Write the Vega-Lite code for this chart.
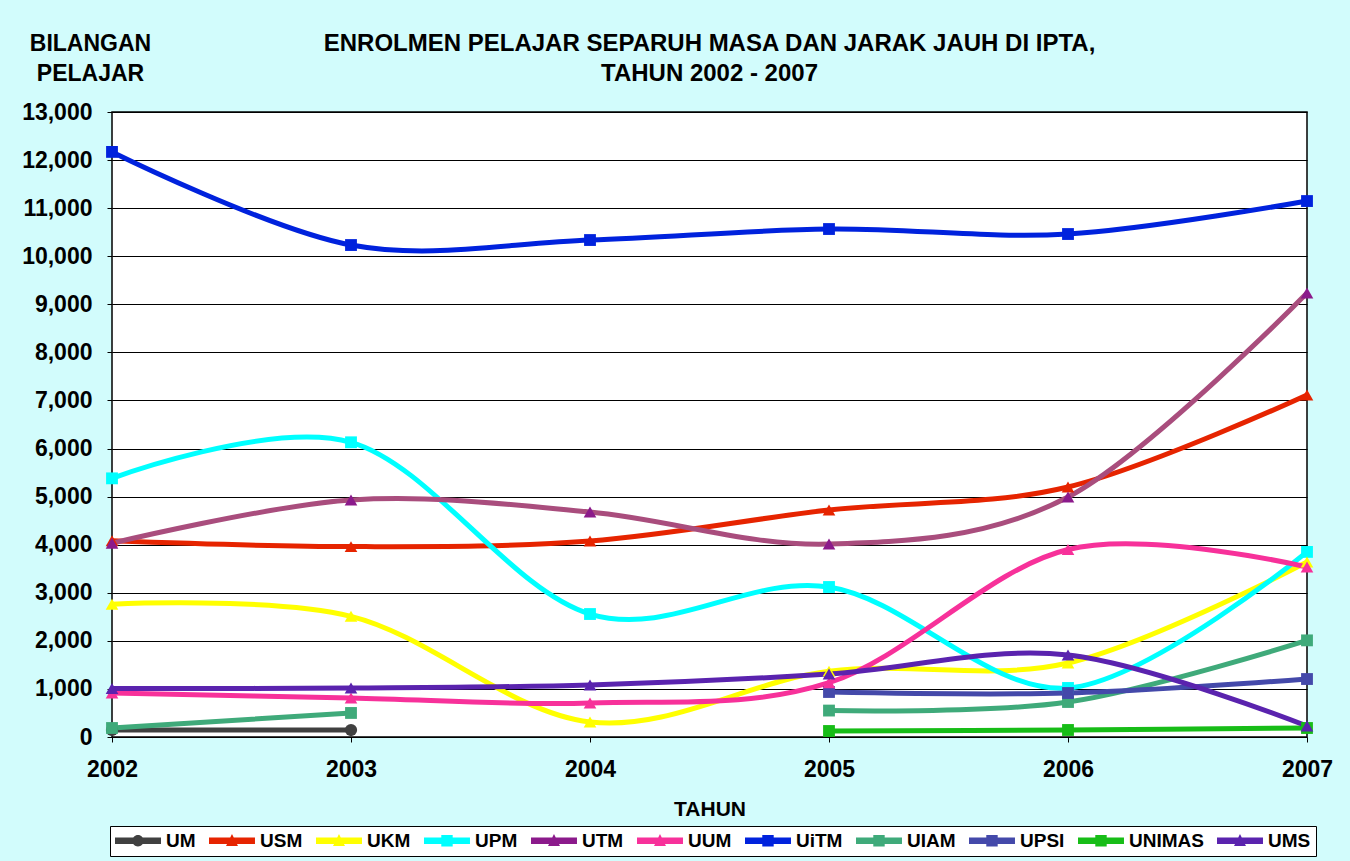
{
  "$schema": "https://vega.github.io/schema/vega-lite/v6.json",
  "width": 1195,
  "height": 625,
  "autosize": {"type": "none"},
  "padding": {"left": 112, "top": 112, "right": 43, "bottom": 124},
  "background": "#D2FCFC",
  "config": {
    "font": "Liberation Sans",
    "view": {"stroke": "#000000", "strokeWidth": 1.5, "fill": "#FFFFFF"},
    "axis": {"labelFont": "Liberation Sans", "labelFontWeight": "bold", "labelColor": "#000000", "titleFont": "Liberation Sans", "titleFontWeight": "bold", "titleColor": "#000000", "tickColor": "#000000", "domain": false}
  },
  "title": {
    "text": ["ENROLMEN PELAJAR SEPARUH MASA DAN JARAK JAUH DI IPTA,", "TAHUN 2002 - 2007"],
    "font": "Liberation Sans",
    "fontSize": 24,
    "fontWeight": "bold",
    "color": "#000000",
    "anchor": "middle",
    "frame": "group",
    "baseline": "bottom",
    "lineHeight": 30,
    "offset": -78
  },
  "data": {
    "values": [
      {"t": 2002, "s": "UM", "v": 145},
      {"t": 2003, "s": "UM", "v": 145},
      {"t": 2002, "s": "USM", "v": 4080},
      {"t": 2003, "s": "USM", "v": 3960},
      {"t": 2004, "s": "USM", "v": 4077},
      {"t": 2005, "s": "USM", "v": 4721},
      {"t": 2006, "s": "USM", "v": 5200},
      {"t": 2007, "s": "USM", "v": 7115},
      {"t": 2002, "s": "UKM", "v": 2760},
      {"t": 2003, "s": "UKM", "v": 2510},
      {"t": 2004, "s": "UKM", "v": 312},
      {"t": 2005, "s": "UKM", "v": 1370},
      {"t": 2006, "s": "UKM", "v": 1540},
      {"t": 2007, "s": "UKM", "v": 3640},
      {"t": 2002, "s": "UPM", "v": 5380},
      {"t": 2003, "s": "UPM", "v": 6130},
      {"t": 2004, "s": "UPM", "v": 2558},
      {"t": 2005, "s": "UPM", "v": 3120},
      {"t": 2006, "s": "UPM", "v": 1020},
      {"t": 2007, "s": "UPM", "v": 3850},
      {"t": 2002, "s": "UTM", "v": 4030},
      {"t": 2003, "s": "UTM", "v": 4930},
      {"t": 2004, "s": "UTM", "v": 4680},
      {"t": 2005, "s": "UTM", "v": 4014},
      {"t": 2006, "s": "UTM", "v": 4992},
      {"t": 2007, "s": "UTM", "v": 9234},
      {"t": 2002, "s": "UUM", "v": 915},
      {"t": 2003, "s": "UUM", "v": 811},
      {"t": 2004, "s": "UUM", "v": 707},
      {"t": 2005, "s": "UUM", "v": 1130},
      {"t": 2006, "s": "UUM", "v": 3900},
      {"t": 2007, "s": "UUM", "v": 3536},
      {"t": 2002, "s": "UiTM", "v": 12170},
      {"t": 2003, "s": "UiTM", "v": 10233},
      {"t": 2004, "s": "UiTM", "v": 10337},
      {"t": 2005, "s": "UiTM", "v": 10566},
      {"t": 2006, "s": "UiTM", "v": 10462},
      {"t": 2007, "s": "UiTM", "v": 11148},
      {"t": 2002, "s": "UIAM", "v": 187},
      {"t": 2003, "s": "UIAM", "v": 500},
      {"t": 2004, "s": "UIAM", "v": null},
      {"t": 2005, "s": "UIAM", "v": 550},
      {"t": 2006, "s": "UIAM", "v": 728},
      {"t": 2007, "s": "UIAM", "v": 2010},
      {"t": 2005, "s": "UPSI", "v": 936},
      {"t": 2006, "s": "UPSI", "v": 915},
      {"t": 2007, "s": "UPSI", "v": 1206},
      {"t": 2005, "s": "UNIMAS", "v": 125},
      {"t": 2006, "s": "UNIMAS", "v": 146},
      {"t": 2007, "s": "UNIMAS", "v": 187},
      {"t": 2002, "s": "UMS", "v": 1010},
      {"t": 2003, "s": "UMS", "v": 1019},
      {"t": 2004, "s": "UMS", "v": 1082},
      {"t": 2005, "s": "UMS", "v": 1310},
      {"t": 2006, "s": "UMS", "v": 1705},
      {"t": 2007, "s": "UMS", "v": 229}
    ]
  },
  "encoding": {
    "x": {
      "field": "t",
      "type": "quantitative",
      "scale": {"domain": [2002, 2007], "nice": false, "zero": false},
      "axis": {"values": [2002, 2003, 2004, 2005, 2006, 2007], "format": "d", "grid": false, "labelFontSize": 23, "labelPadding": 16, "tickSize": 5, "title": "TAHUN", "titleFontSize": 21, "titlePadding": 17, "labelFlush": false}
    },
    "y": {
      "field": "v",
      "type": "quantitative",
      "scale": {"domain": [0, 13000], "nice": false},
      "axis": {"values": [0, 1000, 2000, 3000, 4000, 5000, 6000, 7000, 8000, 9000, 10000, 11000, 12000, 13000], "format": ",.0f", "grid": true, "gridColor": "#000000", "gridWidth": 1, "gridOpacity": 1, "labelFontSize": 23, "labelPadding": 15, "tickSize": 5, "title": ["BILANGAN", "PELAJAR"], "titleAngle": 0, "titleAlign": "center", "titleBaseline": "alphabetic", "titleX": -22, "titleY": -62, "titleFontSize": 23, "titleLineHeight": 30}
    }
  },
  "layer": [
    {
      "mark": {"type": "line", "interpolate": "cardinal", "strokeWidth": 5, "invalid": "break-paths-show-domains"},
      "encoding": {
        "color": {
          "field": "s",
          "type": "nominal",
          "scale": {
            "domain": ["UM", "USM", "UKM", "UPM", "UTM", "UUM", "UiTM", "UIAM", "UPSI", "UNIMAS", "UMS"],
            "range": ["#404040", "#E62400", "#FFFF00", "#00FFFF", "#A94D7D", "#F7319A", "#0022DD", "#3FAA7A", "#4449AA", "#17BD17", "#5A23AE"]
          },
          "legend": {
            "title": null,
            "orient": "none",
            "legendX": -2,
            "legendY": 714,
            "direction": "horizontal",
            "columns": 11,
            "fillColor": "#FFFFFF",
            "strokeColor": "#000000",
            "padding": 5,
            "columnPadding": 13,
            "symbolSize": 361,
            "symbolType": "M-1,-0.32H3.84V0.32H-1Z M0.84,-0.58H2.0V0.58H0.84Z",
            "symbolStrokeWidth": 0,
            "labelOffset": 32,
            "labelFont": "Liberation Sans",
            "labelFontWeight": "bold",
            "labelFontSize": 19,
            "labelColor": "#000000",
            "encode": {
              "symbols": {
                "update": {
                  "shape": {"signal": "datum.value === 'UM' ? 'M-1,-0.35H3.84V0.35H-1Z M2.02,0A0.6,0.6 0 1,1 0.82,0A0.6,0.6 0 1,1 2.02,0Z' : (indexof(['UPM','UiTM','UIAM','UPSI','UNIMAS'], datum.value) >= 0 ? 'M-1,-0.35H3.84V0.35H-1Z M0.82,-0.6H2.02V0.6H0.82Z' : 'M-1,-0.35H3.84V0.35H-1Z M1.42,-0.7L2.05,0.55H0.79Z')"},
                  "fill": {"signal": "scale('color', datum.value)"},
                  "fillOpacity": {"value": 1},
                  "strokeWidth": {"value": 0}
                }
              }
            }
          }
        }
      }
    },
    {
      "transform": [{"filter": {"field": "s", "equal": "UM"}}],
      "mark": {"type": "point", "shape": "circle", "filled": true, "opacity": 1, "strokeWidth": 0, "size": 150},
      "encoding": {
        "fill": {"field": "s", "type": "nominal", "scale": {"domain": ["UM", "USM", "UKM", "UPM", "UTM", "UUM", "UiTM", "UIAM", "UPSI", "UNIMAS", "UMS"], "range": ["#404040", "#E62400", "#FFFF00", "#00FFFF", "#8B1A8B", "#F7319A", "#0022DD", "#3FAA7A", "#4449AA", "#17BD17", "#5A23AE"]}, "legend": null}
      }
    },
    {
      "transform": [{"filter": {"field": "s", "oneOf": ["UPM", "UiTM", "UIAM", "UPSI", "UNIMAS"]}}],
      "mark": {"type": "point", "shape": "square", "filled": true, "opacity": 1, "strokeWidth": 0, "size": 140},
      "encoding": {
        "fill": {"field": "s", "type": "nominal", "legend": null}
      }
    },
    {
      "transform": [{"filter": {"field": "s", "oneOf": ["USM", "UKM", "UTM", "UUM", "UMS"]}}],
      "mark": {"type": "point", "shape": "triangle-up", "filled": true, "opacity": 1, "strokeWidth": 0, "size": 160},
      "encoding": {
        "fill": {"field": "s", "type": "nominal", "legend": null}
      }
    }
  ]
}
